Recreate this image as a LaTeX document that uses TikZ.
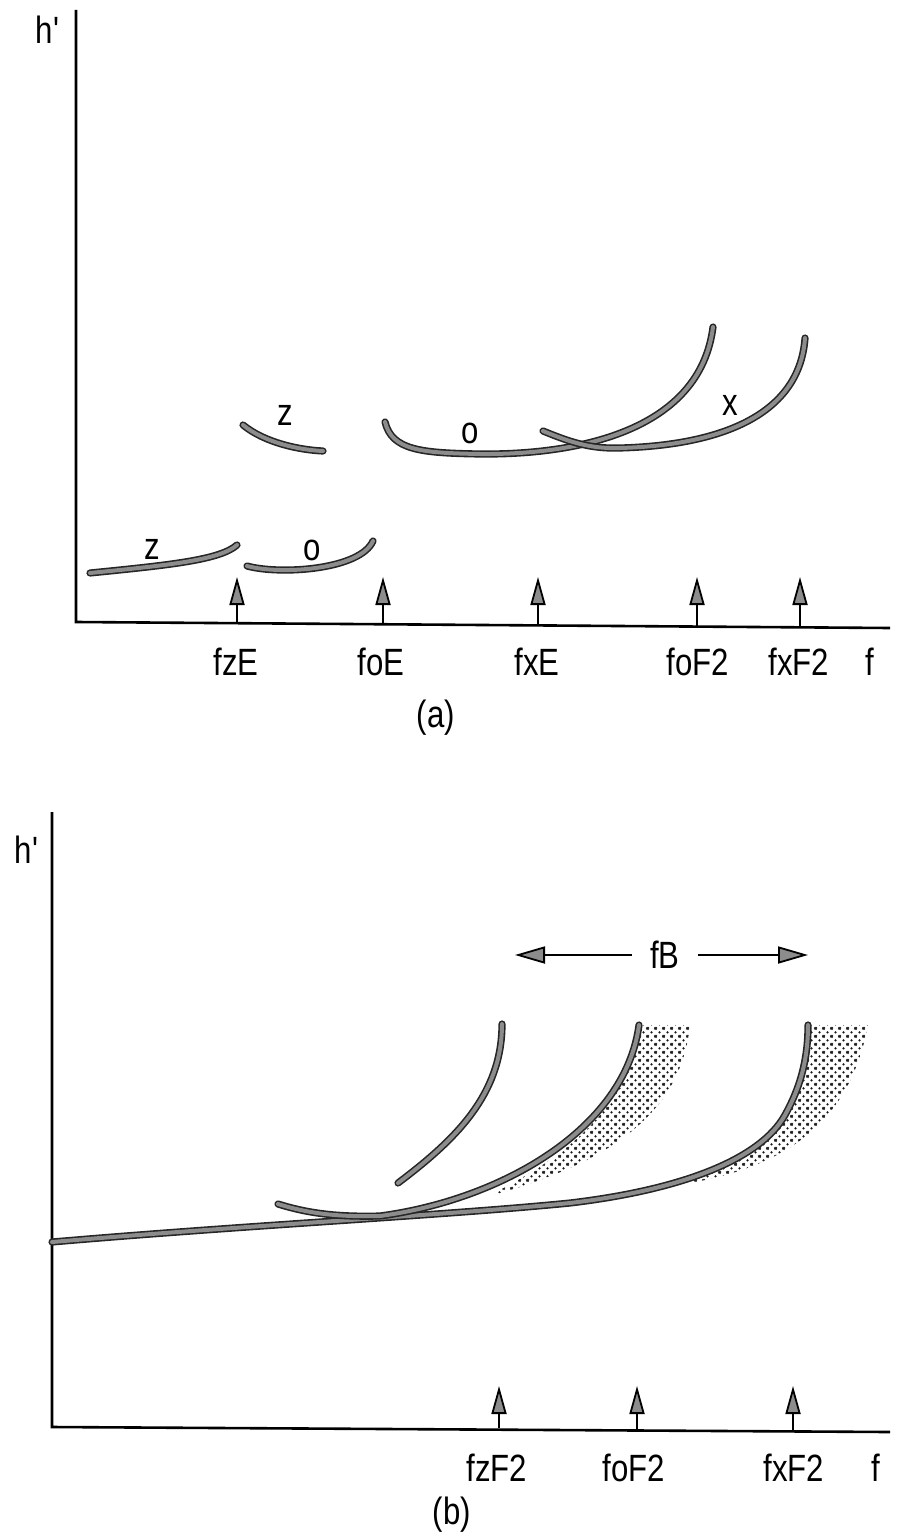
\documentclass[tikz,border=0pt]{standalone}
\usepackage{fontspec}
\setmainfont{Liberation Sans}[FakeStretch=0.82]
\usetikzlibrary{arrows.meta,patterns.meta}
\tikzdeclarepattern{
  name=bigdots,
  type=uncolored,
  bottom left={(0pt,0pt)},
  top right={(4pt,4pt)},
  tile size={(4pt,4pt)},
  code={\fill (0pt,0pt) circle (0.7pt); \fill (2pt,2pt) circle (0.7pt); \fill (4pt,0pt) circle (0.7pt); \fill (0pt,4pt) circle (0.7pt); \fill (4pt,4pt) circle (0.7pt);}
}
\begin{document}
\begin{tikzpicture}[x=0.5pt,y=-0.5pt,
 trace/.style={line width=3.6pt, draw=black!85, line cap=round,
   postaction={draw=black!45, line width=2.0pt, line cap=round}},
 axisline/.style={line width=1.3pt, draw=black},
 marker/.style={line width=0.9pt, -{Triangle[length=14pt,width=7.5pt,fill=black!45]}},
 bandarrow/.style={line width=0.9pt, -{Triangle[length=15pt,width=8.5pt,fill=black!45]}},
 lbl/.style={font=\fontsize{19}{20}\selectfont, inner sep=0pt},
 shadearea/.style={pattern=bigdots, pattern color=black!90}]
\useasboundingbox (0,0) rectangle (908,1540);

% ---------------- panel (a) ----------------
\coordinate (aO) at (76,622);
\coordinate (aTop) at (76,10);
\coordinate (aRight) at (890,628);
\draw[axisline] (aTop) -- (aO) -- (aRight);
\node[lbl] (ah) at (48,30) {h\textquotesingle};

\draw[trace] (90,573) .. controls (170,565) and (220,560) .. (237,545);
\draw[trace] (247,566) .. controls (280,575) and (360,570) .. (373,541);
\draw[trace] (243,425) .. controls (265,443) and (300,450) .. (323,451);
\draw[trace] (385,422) .. controls (392,450) and (420,453) .. (480,454)
   .. controls (580,455) and (700,430) .. (713,327);
\draw[trace] (543,431) .. controls (570,442) and (590,449) .. (620,448)
   .. controls (730,445) and (800,410) .. (805,338);

\node[lbl] (zlow) at (152,549) {z};
\node[lbl] (olow) at (312,550) {o};
\node[lbl] (zup) at (285,415) {z};
\node[lbl] (oup) at (470,433) {o};
\node[lbl] (xup) at (730,405) {x};

\foreach \n/\x/\y in {fzE/237/623, foE/383/624, fxE/538/625, foFa/697/626, fxFa/800/627}{
  \coordinate (\n base) at (\x,\y);
  \coordinate (\n tip) at (\x,577);
  \draw[marker] (\n base) -- (\n tip);
}
\node[lbl] (LfzE) at (236,662) {fzE};
\node[lbl] (LfoE) at (381,662) {foE};
\node[lbl] (LfxE) at (537,662) {fxE};
\node[lbl] (LfoFa) at (698,662) {foF2};
\node[lbl] (LfxFa) at (799,662) {fxF2};
\node[lbl] (Lfa) at (870,662) {f};
\node[lbl] (capa) at (436,718) {(a)};

% ---------------- panel (b) ----------------
\coordinate (bO) at (52,1427);
\coordinate (bTop) at (52,812);
\coordinate (bRight) at (890,1432);
\draw[axisline] (bTop) -- (bO) -- (bRight);
\node[lbl] (bh) at (27,850) {h\textquotesingle};

% shaded bands
\fill[shadearea] (490,1195) .. controls (560,1160) and (630,1110) .. (639,1025)
  -- (690,1025) .. controls (680,1120) and (600,1165) .. (490,1196) -- cycle;
\fill[shadearea] (690,1180) .. controls (780,1150) and (808,1100) .. (808,1025)
  -- (868,1025) .. controls (850,1120) and (790,1165) .. (690,1183) -- cycle;

\draw[trace] (52,1242) .. controls (250,1225) and (450,1215) .. (570,1203)
   .. controls (680,1190) and (760,1160) .. (785,1115)
   .. controls (800,1088) and (808,1060) .. (808,1025);
\draw[trace] (278,1204) .. controls (310,1214) and (340,1217) .. (380,1216)
   .. controls (500,1200) and (625,1130) .. (639,1025);
\draw[trace] (398,1183) .. controls (455,1140) and (502,1095) .. (502,1024);

% band arrow
\node[lbl, inner xsep=9pt] (fB) at (665,955) {fB};
\coordinate (fBl) at (515,955);
\coordinate (fBr) at (808,955);
\draw[bandarrow] (fB.west) -- (fBl);
\draw[bandarrow] (fB.east) -- (fBr);

\foreach \n/\x/\y in {fzFb/499/1428, foFb/637/1429, fxFb/793/1431}{
  \coordinate (\n base) at (\x,\y);
  \coordinate (\n tip) at (\x,1386);
  \draw[marker] (\n base) -- (\n tip);
}
\node[lbl] (LfzFb) at (497,1468) {fzF2};
\node[lbl] (LfoFb) at (634,1468) {foF2};
\node[lbl] (LfxFb) at (794,1468) {fxF2};
\node[lbl] (Lfb) at (876,1468) {f};
\node[lbl] (capb) at (452,1515) {(b)};
\end{tikzpicture}
\end{document}
